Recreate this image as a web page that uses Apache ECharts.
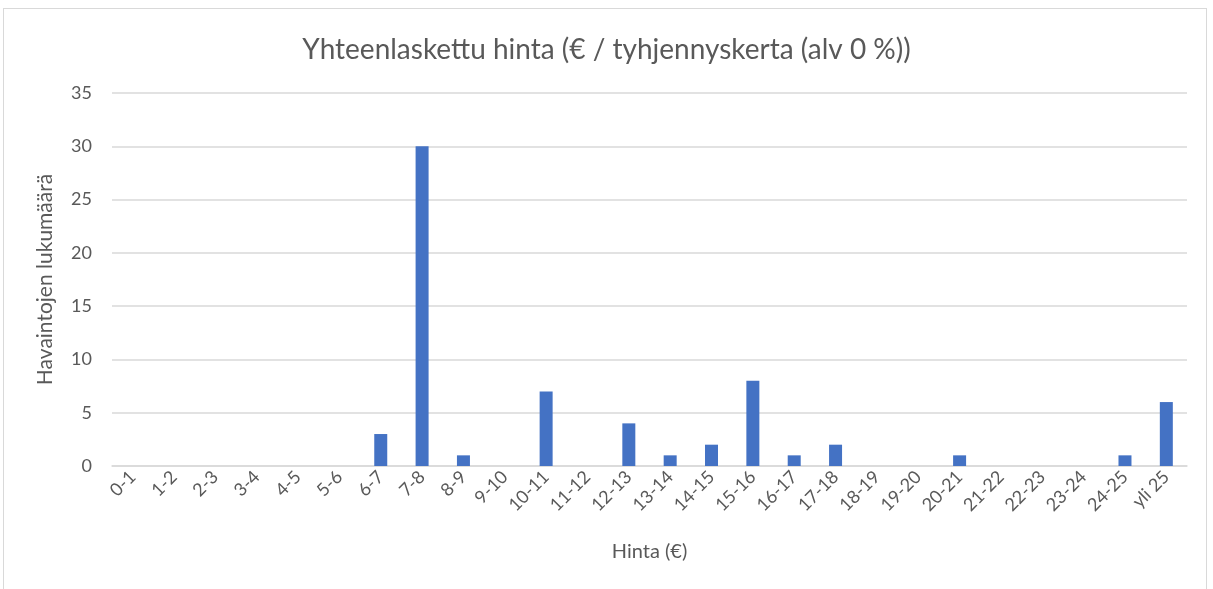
<!DOCTYPE html>
<html>
<head>
<meta charset="utf-8">
<script src="https://cdn.jsdelivr.net/npm/echarts@6/dist/echarts.min.js"></script>
<style>
html, body { margin: 0; padding: 0; background: #fff; }
#frame { position: absolute; left: 3px; top: 8px; width: 1204px; height: 590px; border: 1px solid #d9d9d9; box-sizing: border-box; }
#main { position: absolute; left: 0; top: 0; width: 1213px; height: 589px; }
</style>
</head>
<body>
<div id="frame"></div>
<div id="main"></div>
<script>
var categories = ['0-1', '1-2', '2-3', '3-4', '4-5', '5-6', '6-7', '7-8', '8-9', '9-10',
    '10-11', '11-12', '12-13', '13-14', '14-15', '15-16', '16-17', '17-18', '18-19', '19-20',
    '20-21', '21-22', '22-23', '23-24', '24-25', 'yli 25'];
var counts = [0, 0, 0, 0, 0, 0, 3, 30, 1, 0, 7, 0, 4, 1, 2, 8, 1, 2, 0, 0, 1, 0, 0, 0, 1, 6];

var font = 'Lato, "Open Sans", sans-serif';
var dom = document.getElementById('main');
var myChart = echarts.init(dom);
var option = {
    textStyle: { fontFamily: font },
    title: {
        text: 'Yhteenlaskettu hinta (€ / tyhjennyskerta (alv 0 %))',
        left: 'center',
        top: 31,
        textStyle: { fontFamily: font, fontSize: 28, fontWeight: 'normal', color: '#595959' }
    },
    grid: { left: 112, right: 26, top: 93, bottom: 123 },
    xAxis: {
        type: 'category',
        data: categories,
        name: 'Hinta (€)',
        nameLocation: 'middle',
        nameGap: 76,
        nameTextStyle: { fontFamily: font, fontSize: 20, color: '#595959' },
        axisLine: { lineStyle: { color: '#d9d9d9', width: 1.5 } },
        axisTick: { show: false },
        axisLabel: { rotate: 45, interval: 0, fontSize: 18, color: '#595959', margin: 8 }
    },
    yAxis: {
        type: 'value',
        min: 0,
        max: 35,
        interval: 5,
        name: 'Havaintojen lukumäärä',
        nameLocation: 'middle',
        nameGap: 56,
        nameTextStyle: { fontFamily: font, fontSize: 21, color: '#595959' },
        axisLine: { show: false },
        axisTick: { show: false },
        axisLabel: { fontSize: 18, color: '#595959', margin: 20 },
        splitLine: { lineStyle: { color: '#d9d9d9', width: 1.5 } }
    },
    series: [
        {
            type: 'bar',
            data: counts,
            barWidth: 13,
            itemStyle: { color: '#4472c4' }
        }
    ]
};
myChart.setOption(option, true);

window.onresize = function () {
    myChart.resize();
};
</script>
</body>
</html>
